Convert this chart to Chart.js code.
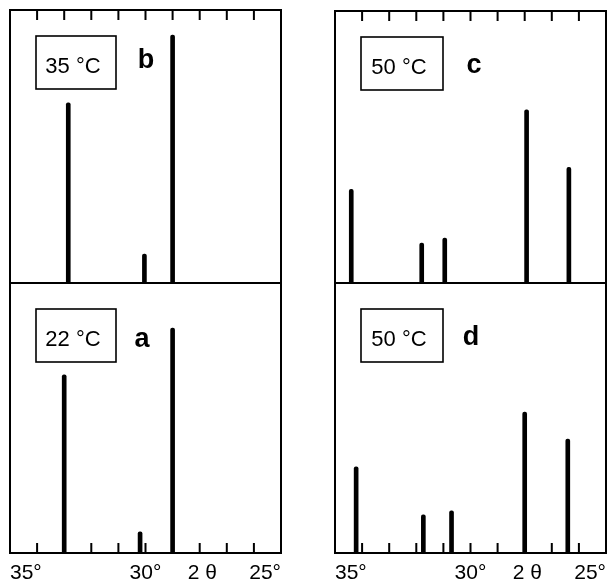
<!DOCTYPE html>
<html>
<head>
<meta charset="utf-8">
<script src="https://cdn.jsdelivr.net/npm/chart.js@4"></script>
<style>
  html, body { margin: 0; padding: 0; background: #fff; }
  #wrap { position: relative; width: 615px; height: 584px; overflow: hidden; }
  #chartLeft { position: absolute; left: 0; top: 0; }
  #chartRight { position: absolute; left: 300px; top: 0; }
</style>
</head>
<body>
<div id="wrap">
  <canvas id="chartLeft" width="300" height="594"></canvas>
  <canvas id="chartRight" width="315" height="594"></canvas>
</div>
<script>
// 2-theta positions (deg) and relative intensities (% of panel height)
const anglesA = [33.0, 30.2, 29.0];
const intensA = [66, 7.8, 83.3];
const anglesB = [32.85, 30.04, 29.0];
const intensB = [66, 10.6, 90.8];
const anglesC = [34.4, 31.8, 30.95, 27.93, 26.37];
const intensC = [34.4, 14.7, 16.5, 63.7, 42.5];
const anglesD = [34.22, 31.74, 30.7, 28.0, 26.41];
const intensD = [31.9, 14.1, 15.6, 52.2, 42.2];

// axis: tick marks every degree, labels at a few spots (ascending order)
const tickDegrees = [34, 33, 32, 31, 30, 29, 28, 27, 26];
const labelValues = [25, 27.9, 30, 35];
const labelTexts = ['25°', '2 θ', '30°', '35°'];

const FONT = '"Liberation Sans", Arial, sans-serif';

function toPoints(xs, ys) {
  return xs.map((x, i) => ({ x: x, y: ys[i] }));
}

// frame, divider, inward ticks, temperature boxes and panel letters
const panelDecor = {
  id: 'panelDecor',
  afterDatasetsDraw(chart, args, opts) {
    const { ctx, chartArea: a, scales } = chart;
    const mid = scales.yTop.bottom;
    ctx.save();
    ctx.strokeStyle = '#000';
    ctx.fillStyle = '#000';
    ctx.lineWidth = 2;
    ctx.strokeRect(a.left, a.top, a.right - a.left, a.bottom - a.top);
    ctx.beginPath();
    ctx.moveTo(a.left, mid);
    ctx.lineTo(a.right, mid);
    ctx.stroke();

    ctx.beginPath();
    tickDegrees.forEach(d => {
      const px = scales.x.getPixelForValue(d);
      ctx.moveTo(px, a.top);
      ctx.lineTo(px, a.top + 10);
      ctx.moveTo(px, a.bottom);
      ctx.lineTo(px, a.bottom - 10);
    });
    ctx.stroke();

    opts.panels.forEach(p => {
      const sc = scales[p.axis];
      const bx = a.left + 26;
      const by = sc.top + 26;
      ctx.lineWidth = 1.6;
      ctx.strokeRect(bx, by, p.boxW, 53);
      ctx.font = '22px ' + FONT;
      ctx.textAlign = 'center';
      ctx.textBaseline = 'alphabetic';
      ctx.fillText(p.label, bx + p.boxW / 2 - 3, by + 37);
      ctx.font = 'bold 27px ' + FONT;
      ctx.fillText(p.letter, a.left + p.lx, sc.top + p.ly);
    });
    ctx.restore();
  }
};

function buildColumn(canvasId, topSet, botSet, pad, topWeight, panels) {
  const bar = { backgroundColor: '#000', borderColor: '#000' };
  return new Chart(document.getElementById(canvasId), {
    type: 'bar',
    data: {
      datasets: [
        Object.assign({ data: toPoints(topSet[0], topSet[1]), yAxisID: 'yTop' }, bar),
        Object.assign({ data: toPoints(botSet[0], botSet[1]), yAxisID: 'yBot' }, bar)
      ]
    },
    options: {
      responsive: false,
      animation: false,
      layout: { padding: pad },
      datasets: {
        bar: {
          barThickness: 4,
          grouped: false,
          borderRadius: 2,
          borderSkipped: 'start'
        }
      },
      plugins: {
        colors: { enabled: false },
        legend: { display: false },
        tooltip: { enabled: false },
        panelDecor: { panels: panels }
      },
      scales: {
        x: {
          type: 'linear',
          min: 25,
          max: 35,
          reverse: true,
          offset: false,
          grid: { display: false, drawTicks: false, offset: false },
          border: { display: false },
          afterBuildTicks: s => { s.ticks = labelValues.map(v => ({ value: v })); },
          ticks: {
            autoSkip: false,
            maxRotation: 0,
            align: 'inner',
            padding: 10,
            color: '#000',
            font: { family: FONT, size: 21, lineHeight: 1 },
            callback: v => labelTexts[labelValues.indexOf(v)]
          }
        },
        yBot: { type: 'linear', min: 0, max: 100, display: false, stack: 'col', stackWeight: 270 },
        yTop: { type: 'linear', min: 0, max: 100, display: false, stack: 'col', stackWeight: topWeight }
      }
    },
    plugins: [panelDecor]
  });
}

buildColumn('chartLeft', [anglesB, intensB], [anglesA, intensA],
  { left: 10, right: 19, top: 10, bottom: 0 }, 273, [
    { axis: 'yTop', label: '35 °C', letter: 'b', boxW: 80, lx: 136, ly: 58 },
    { axis: 'yBot', label: '22 °C', letter: 'a', boxW: 80, lx: 132, ly: 64 }
  ]);

buildColumn('chartRight', [anglesC, intensC], [anglesD, intensD],
  { left: 35, right: 9, top: 11, bottom: 0 }, 272, [
    { axis: 'yTop', label: '50 °C', letter: 'c', boxW: 82, lx: 139, ly: 62 },
    { axis: 'yBot', label: '50 °C', letter: 'd', boxW: 82, lx: 136, ly: 62 }
  ]);
</script>
</body>
</html>
